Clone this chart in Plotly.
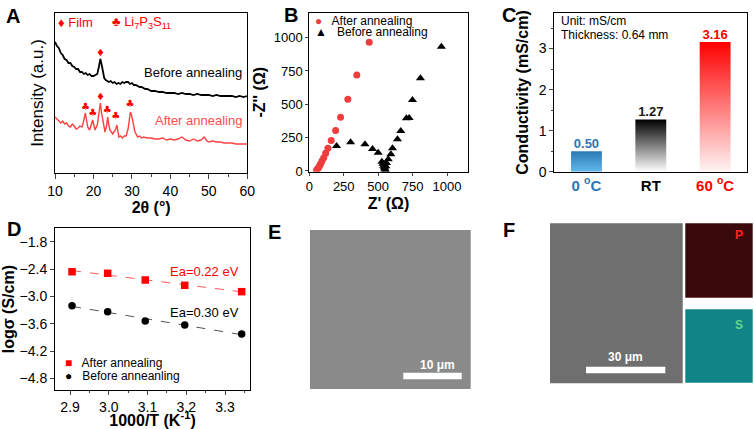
import numpy as np
import plotly.graph_objects as go

W, H = 754, 429
FONT = "Liberation Sans, Arial, sans-serif"


def px(x):
    return x / W


def py(y):
    return 1 - y / H


# ---- panel A: XRD (2theta, arbitrary intensity) ----
before_2t = [10.0, 10.5, 11.0, 11.5, 12.0, 12.5, 13.0, 13.5, 14.0, 14.5, 15.0, 15.5, 16.0, 16.5,
             17.0, 17.5, 18.0, 18.5, 19.0, 19.5, 20.0, 20.5, 21.0, 21.4, 21.8, 22.1, 22.4, 22.8,
             23.2, 23.6, 24.0, 24.5, 25.0, 25.5, 26.0, 26.5, 27.0, 27.5, 28.0, 28.5, 29.0, 29.5,
             30.0, 30.5, 31.0, 31.5, 32.0, 32.5, 33.0, 33.5, 34.0, 34.5, 35.0, 36.0, 37.0, 38.0,
             39.0, 40.0, 41.0, 42.0, 43.0, 44.0, 45.0, 46.0, 47.0, 48.0, 49.0, 50.0, 51.0, 52.0,
             53.0, 54.0, 55.0, 56.0, 57.0, 58.0, 59.0, 60.0]
before_int = [131, 127, 125, 120, 118, 114, 113, 110, 110, 107, 106, 104, 104, 101,
              101, 99, 100, 98, 99, 97, 97, 98, 99, 106, 114, 109, 101, 95,
              93, 92, 91, 92, 90, 91, 89, 90, 89, 91, 90, 91, 91, 89,
              90, 88, 88, 87, 86, 86, 85, 84, 84, 83, 82, 82, 81, 81,
              80, 80, 80, 79, 80, 79, 79, 78, 79, 78, 78, 78, 77, 78,
              77, 77, 77, 77, 76, 77, 76, 77]
after_2t = [10.0, 10.5, 11.0, 11.5, 12.0, 12.5, 13.0, 13.5, 14.0, 14.5, 15.0, 15.5, 16.0, 16.5,
            17.0, 17.4, 17.9, 18.2, 18.5, 19.0, 19.4, 19.8, 20.1, 20.4, 21.0, 21.4, 21.8, 22.1,
            22.5, 23.0, 23.4, 23.7, 24.0, 24.3, 25.0, 25.7, 26.1, 26.6, 27.0, 27.5, 28.0, 28.5,
            29.0, 29.3, 29.6, 29.9, 30.2, 30.8, 31.5, 32.0, 32.5, 33.0, 34.0, 35.0, 36.0, 37.0,
            38.0, 39.0, 40.0, 41.0, 42.0, 43.0, 44.0, 45.0, 46.0, 47.0, 48.0, 48.8, 49.5, 50.0,
            51.0, 52.0, 53.0, 54.0, 55.0, 56.0, 57.0, 58.0, 59.0, 60.0]
after_int = [56, 54, 53, 50, 52, 49, 50, 47, 46, 49, 47, 44, 45, 47,
             46, 51, 60, 53, 46, 43, 47, 53, 48, 43, 48, 58, 70, 60,
             50, 41, 47, 56, 48, 43, 39, 43, 48, 36, 37, 35, 37, 37,
             44, 52, 61, 58, 53, 41, 36, 37, 35, 36, 35, 35, 34, 34,
             35, 33, 34, 33, 34, 36, 33, 32, 34, 32, 33, 36, 32, 31,
             32, 31, 31, 30, 30, 30, 29, 29, 29, 29]
film_before_2t = [21.8]
film_before_y = [120]
film_after_2t = [21.8]
film_after_y = [76]
lps_after_2t = [17.9, 19.8, 23.6, 25.8, 29.5]
lps_after_y = [66, 60, 63, 57, 69]

# ---- panel B: Nyquist ----
after_zre = [435, 345, 280, 227, 191, 159, 135, 119, 105, 92, 82, 74, 66, 58, 52]
after_zim = [965, 720, 538, 403, 303, 228, 170, 133, 100, 75, 55, 38, 24, 12, 4]
before_zre = [198, 300, 404, 459, 500, 527, 535, 540, 545, 548, 550, 553, 556, 560, 573,
              592, 604, 640, 664, 705, 725, 749, 807, 959]
before_zim = [188, 215, 200, 165, 137, 70, 55, 40, 28, 18, 10, 4, 35, 60, 88,
              125, 170, 238, 300, 395, 398, 532, 695, 932]

# ---- panel C: conductivity ----
temps = ["0 °C", "RT", "60 °C"]
conductivity = [0.50, 1.27, 3.16]
bar_top = ["#2a78b5", "#000000", "#ff0000"]
bar_bottom = ["#62b8ea", "#ffffff", "#fff4f4"]
label_col = ["#2e75b6", "#1a1a1a", "#ff0000"]

# ---- panel D: Arrhenius ----
inv_t = [2.905, 2.997, 3.094, 3.196, 3.343]
logs_after = [-2.453, -2.488, -2.635, -2.752, -2.892]
logs_before = [-3.20, -3.332, -3.536, -3.624, -3.822]

fig = go.Figure()

# A
fig.add_trace(go.Scatter(x=before_2t, y=before_int, mode="lines",
                         line=dict(color="black", width=1.8), xaxis="x", yaxis="y"))
fig.add_trace(go.Scatter(x=after_2t, y=after_int, mode="lines",
                         line=dict(color="#ff4040", width=1.4), xaxis="x", yaxis="y"))
fig.add_trace(go.Scatter(x=film_before_2t + film_after_2t, y=film_before_y + film_after_y,
                         mode="text", text=["♦", "♦"], textfont=dict(color="red", size=10, family="DejaVu Sans"),
                         xaxis="x", yaxis="y"))
fig.add_trace(go.Scatter(x=lps_after_2t, y=lps_after_y, mode="text", text=["♣"] * len(lps_after_2t),
                         textfont=dict(color="red", size=10, family="DejaVu Sans"), xaxis="x", yaxis="y"))

# B
fig.add_trace(go.Scatter(x=after_zre, y=after_zim, mode="markers",
                         marker=dict(color="#f03c3c", size=7, symbol="circle"), xaxis="x2", yaxis="y2"))
fig.add_trace(go.Scatter(x=before_zre, y=before_zim, mode="markers",
                         marker=dict(color="black", size=8, symbol="triangle-up"), xaxis="x2", yaxis="y2"))

# C - bars as gradient-filled polygons
bw = 0.48
for i, v in enumerate(conductivity):
    fig.add_trace(go.Scatter(
        x=[i - bw / 2, i + bw / 2, i + bw / 2, i - bw / 2, i - bw / 2],
        y=[0, 0, v, v, 0], mode="lines", line=dict(width=0), fill="toself",
        fillgradient=dict(type="vertical", colorscale=[[0, bar_bottom[i]], [1, bar_top[i]]]),
        xaxis="x3", yaxis="y3"))
fig.add_trace(go.Scatter(x=list(range(len(conductivity))), y=conductivity, mode="text",
                         text=["<b>%.2f</b>" % v for v in conductivity], textposition="top center",
                         textfont=dict(color=label_col, size=13, family=FONT), xaxis="x3", yaxis="y3"))

# D
for ys, col, lcol, sym in [(logs_after, "red", "#ff5a5a", "square"), (logs_before, "black", "#555555", "circle")]:
    k, b = np.polyfit(inv_t, ys, 1)
    xs = [inv_t[0], inv_t[-1]]
    fig.add_trace(go.Scatter(x=xs, y=[k * xs[0] + b, k * xs[1] + b], mode="lines",
                             line=dict(color=lcol, width=1, dash="dash"), xaxis="x4", yaxis="y4"))
    fig.add_trace(go.Scatter(x=inv_t, y=ys, mode="markers", marker=dict(color=col, size=7.5, symbol=sym),
                             xaxis="x4", yaxis="y4"))

frame = dict(showline=True, mirror=True, linecolor="black", linewidth=1, zeroline=False, automargin=False,
             showgrid=False, tickfont=dict(family=FONT, size=14, color="black"))
ttl = dict(family=FONT, size=16, color="black")

fig.update_layout(
    width=W, height=H, margin=dict(l=0, r=0, t=0, b=0, autoexpand=False), showlegend=False,
    paper_bgcolor="white", plot_bgcolor="white", font=dict(family=FONT, color="black"),
    xaxis=dict(frame, domain=[px(55), px(247.3)], range=[10, 60], dtick=10, ticks="outside", ticklen=5,
               minor=dict(ticks="outside", ticklen=3, dtick=5),
               title=dict(text="<b>2θ (°)</b>", font=ttl, standoff=4), anchor="y"),
    yaxis=dict(frame, domain=[py(173), py(13)], range=[0, 160], showticklabels=False, ticks="",
               title=dict(text="Intensity (a.u.)", font=dict(family=FONT, size=17, color="black"), standoff=6),
               anchor="x"),
    xaxis2=dict(frame, domain=[px(309.3), px(467.7)], range=[0, 1150], tickvals=[0, 250, 500, 750, 1000],
                ticks="outside", ticklen=3, tickfont=dict(family=FONT, size=13, color="black"),
                title=dict(text="<b>Z' (Ω)</b>", font=ttl, standoff=4), anchor="y2"),
    yaxis2=dict(frame, domain=[py(171.5), py(13)], range=[-4, 1185], tickvals=[0, 250, 500, 750, 1000],
                ticks="outside", ticklen=3, tickfont=dict(family=FONT, size=13, color="black"),
                title=dict(text="<b>-Z'' (Ω)</b>", font=ttl, standoff=4), anchor="x2"),
    xaxis3=dict(frame, domain=[px(554.3), px(747.3)], range=[-0.5, 2.5], tickvals=[0, 1, 2],
                ticktext=['<b><span style="color:#2e75b6">0 <sup>o</sup>C</span></b>', "<b>RT</b>",
                          '<b><span style="color:#ff0000">60 <sup>o</sup>C</span></b>'],
                ticks="", tickfont=dict(family=FONT, size=15, color="black"), anchor="y3"),
    yaxis3=dict(frame, domain=[py(171.7), py(13.3)], range=[0, 3.86], tickvals=[0, 1, 2, 3],
                ticks="outside", ticklen=4, minor=dict(ticks="outside", ticklen=2, dtick=0.5),
                title=dict(text="<b>Conductivity (mS/cm)</b>", font=ttl, standoff=6), anchor="x3"),
    xaxis4=dict(frame, domain=[px(55), px(250)], range=[2.861, 3.3645], tickvals=[2.9, 3.0, 3.1, 3.2, 3.3],
                tickformat=".1f", ticks="outside", ticklen=4,
                minor=dict(ticks="outside", ticklen=2, dtick=0.05),
                title=dict(text="<b>1000/T (K<sup>-1</sup>)</b>", font=ttl, standoff=2), anchor="y4"),
    yaxis4=dict(frame, domain=[py(390), py(228.3)], range=[-5.053, -1.499],
                tickvals=[-1.8, -2.4, -3.0, -3.6, -4.2, -4.8], tickformat=".1f", ticks="outside", ticklen=4,
                title=dict(text="<b>logσ (S/cm)</b>", font=ttl, standoff=6), anchor="x4"),
)

ann = []


def note(x, y, text, size=13, color="black", xanchor="center", bold=False):
    ann.append(dict(x=px(x), y=py(y), xref="paper", yref="paper", showarrow=False, xanchor=xanchor,
                    yanchor="middle", borderpad=0, text=("<b>%s</b>" % text) if bold else text,
                    font=dict(family=FONT, size=size, color=color)))


# panel letters
for lx, ly, lt in [(13, 16, "A"), (291, 15, "B"), (509, 15, "C"), (14, 229, "D"), (274, 232, "E"), (509, 230, "F")]:
    note(lx, ly, lt, size=20, bold=True)

# A labels
note(57, 22.7, "♦ Film", size=13, color="red", xanchor="left")
note(111, 22.7, "♣ Li<sub>7</sub>P<sub>3</sub>S<sub>11</sub>", size=13, color="red", xanchor="left")
note(243, 72.7, "Before annealing", size=13, xanchor="right")
note(243, 120, "After annealing", size=13, color="#ff4d4d", xanchor="right")

# B legend
note(314, 20.7, '<span style="color:#f03c3c">●</span>   After annealing', size=12, xanchor="left")
note(314, 32.3, "▲   Before annealing", size=12, xanchor="left")

# C notes
note(560, 20.7, "Unit: mS/cm", size=12, xanchor="left")
note(560, 35, "Thickness: 0.64 mm", size=12, xanchor="left")

# D notes and legend
note(205, 271, "Ea=0.22 eV", size=13, color="red")
note(205, 312, "Ea=0.30 eV", size=13)
note(64, 363.3, '<span style="color:red">■</span>   After annealing', size=12, xanchor="left")
note(64, 375.7, "●   Before anneanling", size=12, xanchor="left")

# E, F micrographs as plain panels
shapes = []


def rect(x0, y0, x1, y1, color):
    shapes.append(dict(type="rect", xref="paper", yref="paper", x0=px(x0), x1=px(x1), y0=py(y1), y1=py(y0),
                       fillcolor=color, line=dict(width=0), layer="above"))


rect(310, 230, 470.7, 389, "#8a8a8a")
rect(403.3, 372.7, 461.7, 379.3, "white")
rect(550, 223.3, 682.7, 383.3, "#6f6f6f")
rect(685.3, 223.3, 752.7, 297.7, "#3a0a0a")
rect(685.3, 309.3, 752.7, 382.7, "#108486")
rect(586, 366.7, 665.3, 373.3, "white")
note(437, 365, "10 μm", size=12, color="white", bold=True)
note(625, 356.7, "30 μm", size=12, color="white", bold=True)
note(739, 235, "P", size=12, color="#ff2020", bold=True)
note(739, 325, "S", size=12, color="#66d690", bold=True)

fig.update_layout(annotations=ann, shapes=shapes)
# drop the default page margin so the figure sits at the window's top-left corner
fig.write_html("out.html", config={"displayModeBar": False},
               post_script="document.body.style.margin='0';document.body.style.overflow='hidden';")
